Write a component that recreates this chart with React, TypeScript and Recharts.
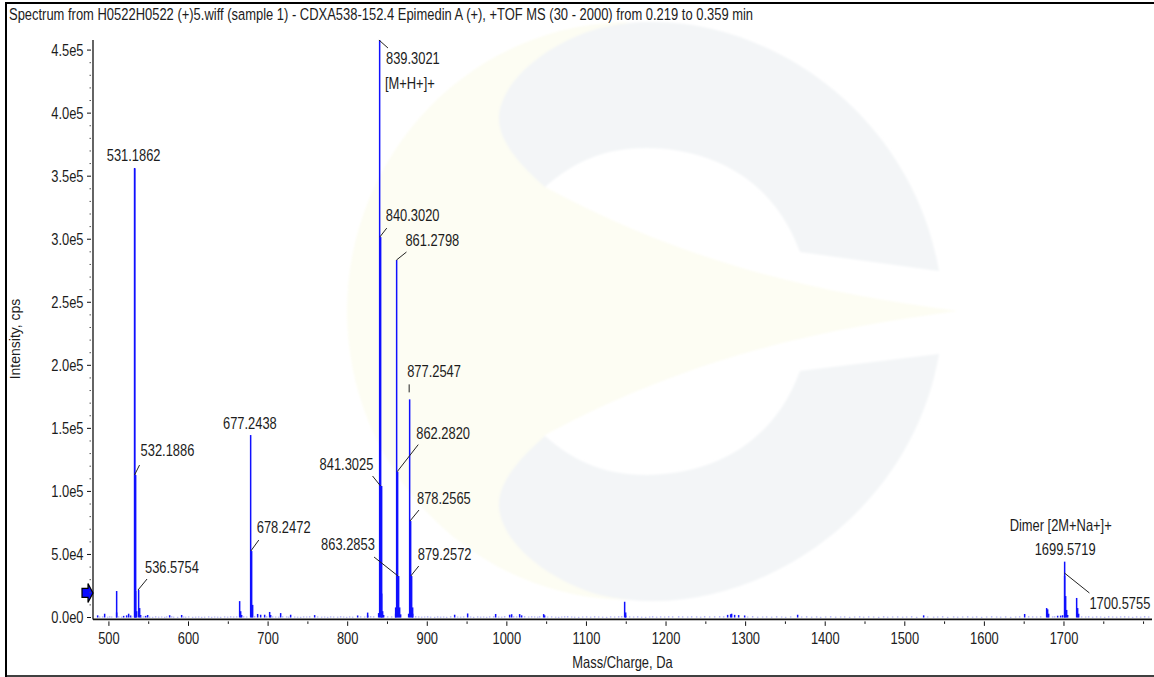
import React from 'react';
import { ComposedChart, Bar, XAxis, YAxis, ReferenceDot } from 'recharts';

const TITLE = 'Spectrum from H0522H0522 (+)5.wiff (sample 1) - CDXA538-152.4 Epimedin A (+), +TOF MS (30 - 2000) from 0.219 to 0.359 min';
const X_TITLE = 'Mass/Charge, Da';
const Y_TITLE = 'Intensity, cps';

const xMajorTicks = [500, 600, 700, 800, 900, 1000, 1100, 1200, 1300, 1400, 1500, 1600, 1700];
const xMinorTicks = [550, 650, 750, 850, 950, 1050, 1150, 1250, 1350, 1450, 1550, 1650, 1750, 1800];
const yMajorTicks = [0, 50000, 100000, 150000, 200000, 250000, 300000, 350000, 400000, 450000];
const yMajorLabels = ['0.0e0', '5.0e4', '1.0e5', '1.5e5', '2.0e5', '2.5e5', '3.0e5', '3.5e5', '4.0e5', '4.5e5'];
const yMinorTicks = [
  10000, 20000, 30000, 40000, 60000, 70000, 80000, 90000, 110000, 120000, 130000, 140000,
  160000, 170000, 180000, 190000, 210000, 220000, 230000, 240000, 260000, 270000, 280000, 290000,
  310000, 320000, 330000, 340000, 360000, 370000, 380000, 390000, 410000, 420000, 430000, 440000,
];

const peakMasses = [
  485, 494, 508.4, 509.4, 518, 521, 524, 526,
  531.19, 531.9, 532.19, 533.19, 534.2, 536.58, 537.58, 538.6, 545, 548, 575, 590,
  663.7, 664.7, 665.7, 677.24, 678.25, 679.25, 685.6, 690, 695, 701.2, 702.2, 715, 728, 758,
  812, 823.7, 824.7, 838, 839.3, 840.3, 841.3, 842.3, 843.3, 844.3,
  859, 860, 861.28, 862.28, 863.29, 864.3, 865.3,
  876, 877.25, 878.26, 879.26, 880.26, 881.3,
  933, 950, 985, 1003, 1005, 1015, 1018, 1045, 1047, 1147, 1148, 1149,
  1277, 1280, 1282, 1285, 1290, 1298, 1364, 1523, 1650,
  1678, 1679, 1680, 1691, 1695, 1697,
  1699.57, 1700.58, 1701.58, 1702.58, 1703.6, 1715.5, 1716.5, 1717.5,
];
const peakIntensities = [
  1700, 3000, 21000, 4000, 1300, 1700, 3000, 1600,
  356500, 356000, 113000, 21000, 5000, 21800, 7500, 2000, 1300, 2000, 1800, 2000,
  13000, 5000, 2000, 144700, 52700, 10000, 2800, 2200, 2200, 4400, 2000, 3500, 2200, 1900,
  1600, 3900, 1600, 3500, 458000, 301700, 104300, 19000, 5000, 2000,
  8000, 3000, 283500, 115700, 32900, 8000, 2500,
  3000, 173000, 76500, 32900, 8000, 3000,
  2200, 3200, 2800, 2200, 2600, 2700, 1700, 2700, 1700, 12500, 4000, 1500,
  2100, 2600, 3000, 2100, 1900, 1600, 2200, 1700, 2800,
  7500, 6500, 3000, 1400, 1500, 1800,
  44300, 33000, 17000, 6000, 2000, 15500, 7500, 3000,
];

const noiseMasses = [
  488, 491, 497, 500, 503, 512, 515, 528, 540, 543, 551, 554, 558, 562, 566, 569, 572, 578, 581, 585,
  593, 596, 600, 604, 608, 612, 616, 620, 624, 628, 632, 636, 640, 644, 648, 652, 656, 660, 669, 672,
  682, 698, 705, 709, 712, 718, 722, 725, 732, 736, 740, 744, 748, 752, 762, 766, 770, 774, 778, 782,
  786, 790, 794, 798, 802, 806, 816, 820, 828, 832, 850, 854, 884, 888, 892, 896, 900, 904, 908, 912,
  916, 920, 924, 928, 937, 941, 945, 954, 958, 962, 966, 970, 974, 978, 982, 989, 993, 997, 1008, 1011,
  1022, 1026, 1030, 1034, 1038, 1041, 1051, 1055, 1060, 1064, 1068, 1072, 1075, 1080, 1085, 1090, 1095, 1100, 1105, 1110,
  1115, 1120, 1125, 1130, 1135, 1140, 1144, 1153, 1158, 1163, 1168, 1173, 1178, 1183, 1188, 1193, 1198, 1203, 1208, 1215,
  1220, 1226, 1232, 1238, 1243, 1248, 1254, 1260, 1266, 1272, 1302, 1308, 1314, 1320, 1326, 1332, 1338, 1344, 1350, 1356,
  1370, 1376, 1382, 1388, 1394, 1400, 1406, 1412, 1418, 1424, 1430, 1436, 1442, 1448, 1454, 1460, 1466, 1472, 1478, 1484,
  1490, 1496, 1502, 1508, 1514, 1528, 1535, 1541, 1547, 1553, 1560, 1566, 1572, 1578, 1584, 1590, 1596, 1602, 1608, 1614,
  1620, 1626, 1632, 1638, 1644, 1655, 1660, 1665, 1670, 1685, 1688, 1722, 1726, 1730, 1735, 1740, 1745, 1750, 1755, 1760,
  1765, 1770, 1775, 1780, 1785, 1790, 1795, 1800, 1805,
];
const noiseIntensities = [
  800, 900, 700, 1000, 800, 900, 700, 1100, 800, 900, 700, 600, 1000, 700, 800, 600, 900, 1000, 700, 600,
  800, 700, 900, 600, 700, 800, 600, 700, 900, 600, 800, 700, 600, 900, 700, 1000, 800, 900, 1000, 800,
  1100, 1000, 900, 800, 700, 1000, 900, 700, 800, 700, 600, 900, 800, 1000, 900, 700, 800, 600, 900, 800,
  700, 1000, 800, 600, 900, 700, 1000, 800, 1100, 1000, 1000, 900, 1100, 900, 700, 800, 1000, 700, 600, 900,
  700, 800, 600, 1000, 800, 700, 900, 800, 600, 900, 700, 800, 600, 900, 1000, 800, 700, 1100, 1000, 900,
  1100, 800, 1000, 900, 700, 1000, 800, 900, 700, 600, 800, 1000, 1100, 800, 700, 600, 800, 900, 700, 1000,
  800, 700, 600, 900, 800, 1000, 1100, 900, 800, 1000, 700, 600, 800, 1000, 700, 900, 800, 1000, 900, 1000,
  900, 800, 1000, 900, 700, 1100, 900, 1000, 1100, 1000, 800, 1100, 700, 800, 900, 700, 1000, 800, 600, 900,
  800, 1000, 700, 900, 600, 800, 1000, 700, 800, 900, 600, 800, 1000, 700, 900, 800, 600, 1000, 700, 800,
  900, 700, 800, 1000, 600, 900, 700, 800, 1000, 600, 900, 700, 800, 1000, 700, 900, 600, 800, 1000, 800,
  700, 900, 600, 800, 1000, 1100, 900, 800, 1000, 900, 1000, 900, 800, 1000, 700, 900, 800, 600, 1000, 800,
  700, 900, 1000, 800, 600, 900, 700, 1100, 800,
];

const annotationMasses = [531.19, 532.19, 536.58, 677.24, 678.25, 839.3, 840.3, 861.28, 877.25, 862.28, 841.3, 878.26, 879.26, 863.29, 1699.57, 1700.58];
const annotationIntensities = [356500, 113000, 21800, 144700, 52700, 458000, 301700, 283500, 173000, 115700, 104300, 76500, 32900, 32900, 44300, 35300];
const annotationLabels = [
  '531.1862', '532.1886', '536.5754', '677.2438', '678.2472', '839.3021', '840.3020', '861.2798',
  '877.2547', '862.2820', '841.3025', '878.2565', '879.2572', '863.2853', '1699.5719', '1700.5755',
];
// label offset from peak top (dx, dy) and leader line (from x1,y1 to x2,y2), in pixels
const annotationOffsets = [
  { dx: -27, dy: -7 },
  { dx: 6, dy: -19, line: [0, 0, 5, -10] },
  { dx: 7, dy: -17, line: [0, 0, 9, -11] },
  { dx: -27, dy: -6 },
  { dx: 6, dy: -18, line: [0, 0, 8, -11] },
  { dx: 7, dy: 24, line: [0, 0, 9, 8] },
  { dx: 6, dy: -16, line: [0, 0, 7, -9] },
  { dx: 9, dy: -14, line: [0, 0, 10, -8] },
  { dx: -2, dy: -22, line: [0, -7, 0, -15] },
  { dx: 19, dy: -33, line: [0, 0, 21, -27] },
  { dx: -61, dy: -16, line: [0, 0, -8, -10] },
  { dx: 7, dy: -17, line: [0, 0, 9, -11] },
  { dx: 7, dy: -16, line: [0, 0, 8, -10] },
  { dx: -77, dy: -26, line: [0, 0, -24, -19] },
  { dx: -29, dy: -7 },
  { dx: 25, dy: 36, line: [0, 0, 25, 20] },
];
const EXTRA_LABELS = [
  { text: '[M+H+]+', mass: 839.3, value: 458000, dx: 6, dy: 49 },
  { text: 'Dimer [2M+Na+]+', mass: 1699.57, value: 44300, dx: -54, dy: -31 },
];

const SQUEEZE = 0.782;
const FONT_SIZE = 16.5;
const TEXT = '#1c1c1c';
const FONT = '"Liberation Sans", Arial, sans-serif';

const BLUE = '#1010ff';
const PALE = '#a9a9fb';
const NOISE_LIMIT = 1200;

const chartData = [
  ...peakMasses.map((mass, i) => ({ mass, intensity: peakIntensities[i] })),
  ...noiseMasses.map((mass, i) => ({ mass, intensity: noiseIntensities[i] })),
].sort((a, b) => a.mass - b.mass);

const Squeezed = ({ x, y, anchor = 'start', children }: any) => (
  <text
    transform={`translate(${x} ${y}) scale(${SQUEEZE} 1)`}
    textAnchor={anchor}
    fontFamily={FONT}
    fontSize={FONT_SIZE}
    fill={TEXT}
  >
    {children}
  </text>
);

const XTick = ({ x, y, payload }: any) => {
  const major = xMajorTicks.includes(payload.value);
  return (
    <g>
      <line x1={x} x2={x} y1={y} y2={y + (major ? 4.5 : 2.5)} stroke="#111" strokeWidth={1} />
      {major && <Squeezed x={x} y={y + 23} anchor="middle">{String(payload.value)}</Squeezed>}
    </g>
  );
};

const YTick = ({ x, y, payload }: any) => {
  const i = yMajorTicks.indexOf(payload.value);
  return (
    <g>
      <line x1={x - (i >= 0 ? 4 : 1.5)} x2={x} y1={y} y2={y} stroke={i >= 0 ? '#111' : '#555'} strokeWidth={1} />
      {i >= 0 && <Squeezed x={x - 7.5} y={y + 5.5} anchor="end">{yMajorLabels[i]}</Squeezed>}
    </g>
  );
};

const PeakBar = (props: any) => {
  const { x, y, width, height, payload } = props;
  const fill = payload.intensity < NOISE_LIMIT ? PALE : BLUE;
  return (
    <rect
      x={Math.round(x + width / 2) - 0.1}
      y={y}
      width={1.5}
      height={Math.max(height, 1)}
      fill={fill}
    />
  );
};

const annotationShape = (index: number) => (props: any) => {
  const { cx, cy } = props;
  const o = annotationOffsets[index];
  return (
    <g>
      {o.line && (
        <line
          x1={cx + o.line[0]}
          y1={cy + o.line[1]}
          x2={cx + o.line[2]}
          y2={cy + o.line[3]}
          stroke="#222"
          strokeWidth={1}
        />
      )}
      <Squeezed x={cx + o.dx} y={cy + o.dy}>{annotationLabels[index]}</Squeezed>
    </g>
  );
};

const arrowShape = (props: any) => {
  const { cx, cy } = props;
  return (
    <path
      d={`M${cx - 11} ${cy - 4.5} H${cx - 5} V${cy - 9.5} L${cx} ${cy} L${cx - 5} ${cy + 9.5} V${cy + 4.5} H${cx - 11} Z`}
      fill="#0a0aff"
      stroke="#000"
      strokeWidth={1.2}
    />
  );
};

const Watermark = () => (
  <svg width={1154} height={677} style={{ position: 'absolute', left: 0, top: 0 }}>
    <defs>
      <filter id="soft" x="-5%" y="-5%" width="110%" height="110%">
        <feGaussianBlur stdDeviation="1.2" />
      </filter>
    </defs>
    <g filter="url(#soft)">
      <path
        d="M958 311 C 820 293 690 265 545 187 L 499 115 C 510 80 560 45 630 22 A 283 289 0 0 0 630 600 C 560 578 510 543 499 508 L 545 435 C 690 357 820 329 958 311 Z"
        fill="#fdfdf3"
      />
      <path
        d="M499 115 C 503 78 550 42 600 28 C 740 -5 910 100 939 271 L 800 252 C 770 170 700 148 646 148 C 600 148 570 165 545 187 C 520 165 497 140 499 115 Z"
        fill="#f3f5f7"
      />
      <path
        d="M499 508 C 503 545 550 581 600 595 C 740 628 910 523 939 354 L 800 371 C 770 453 700 475 646 475 C 600 475 570 458 545 436 C 520 458 497 483 499 508 Z"
        fill="#f3f5f7"
      />
    </g>
  </svg>
);

const Frame = () => (
  <svg width={1154} height={677} style={{ position: 'absolute', left: 0, top: 0, pointerEvents: 'none' }}>
    <line x1={6} x2={6} y1={2} y2={677} stroke="#000" strokeWidth={2} />
    <line x1={5} x2={1154} y1={3} y2={3} stroke="#000" strokeWidth={2} />
    <line x1={5} x2={1154} y1={676} y2={676} stroke="#000" strokeWidth={1.5} />
    <text transform="translate(9 20) scale(0.785 1)" fontFamily={FONT} fontSize={FONT_SIZE} fill={TEXT}>
      {TITLE}
    </text>
  </svg>
);

export default function App() {
  return (
    <div style={{ position: 'absolute', left: 0, top: 0, width: 1154, height: 677, background: '#fff', overflow: 'hidden' }}>
      <Watermark />
      <div style={{ position: 'absolute', left: 0, top: 0 }}>
        <ComposedChart
          width={1154}
          height={677}
          data={chartData}
          margin={{ top: 40, right: 2, bottom: 0, left: 0 }}
          barCategoryGap={0}
        >
          <XAxis
            dataKey="mass"
            type="number"
            domain={[480, 1810.6]}
            ticks={[...xMajorTicks, ...xMinorTicks].sort((a, b) => a - b)}
            interval={0}
            tickLine={false}
            tickSize={0}
            tick={XTick}
            height={57.6}
            axisLine={{ stroke: '#111', strokeWidth: 1.6 }}
            allowDataOverflow
            label={{
              value: X_TITLE,
              content: ({ viewBox }: any) => (
                <Squeezed x={viewBox.x + viewBox.width / 2} y={668} anchor="middle">{X_TITLE}</Squeezed>
              ),
            }}
          />
          <YAxis
            type="number"
            width={93}
            domain={[-1500, 458000]}
            ticks={[...yMajorTicks, ...yMinorTicks]}
            interval={0}
            tickLine={false}
            tickSize={0}
            tick={YTick}
            axisLine={{ stroke: '#111', strokeWidth: 1.3 }}
            allowDataOverflow
            label={{
              value: Y_TITLE,
              content: () => (
                <text
                  transform="translate(20 339) rotate(-90)"
                  textAnchor="middle"
                  fontFamily={FONT}
                  fontSize={14}
                  fill={TEXT}
                >
                  {Y_TITLE}
                </text>
              ),
            }}
          />
          <Bar dataKey="intensity" barSize={1} isAnimationActive={false} shape={PeakBar} />
          {annotationMasses.map((mass, i) => (
            <ReferenceDot
              key={mass}
              x={mass}
              y={annotationIntensities[i]}
              r={0}
              ifOverflow="visible"
              shape={annotationShape(i)}
            />
          ))}
          {EXTRA_LABELS.map((l) => (
            <ReferenceDot
              key={l.text}
              x={l.mass}
              y={l.value}
              r={0}
              ifOverflow="visible"
              shape={(p: any) => <Squeezed x={p.cx + l.dx} y={p.cy + l.dy}>{l.text}</Squeezed>}
            />
          ))}
          <ReferenceDot x={480} y={19500} r={0} ifOverflow="visible" shape={arrowShape} />
        </ComposedChart>
      </div>
      <Frame />
    </div>
  );
}
